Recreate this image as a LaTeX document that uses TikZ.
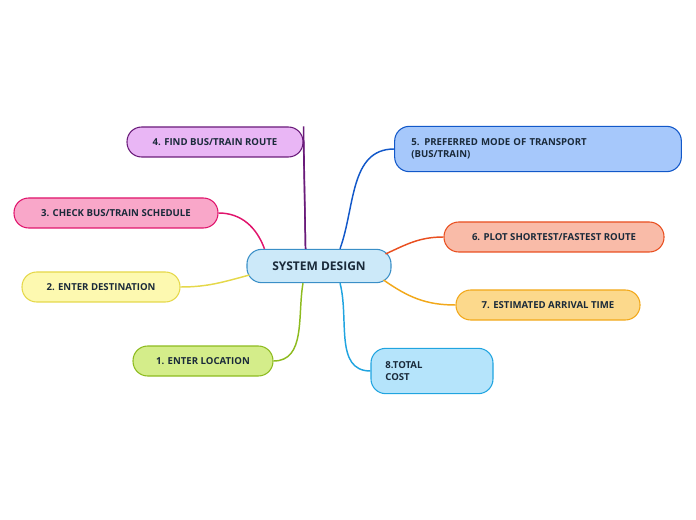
\documentclass[tikz,border=0pt]{standalone}
\usepackage{fontspec}
\setmainfont{Open Sans}
\usetikzlibrary{positioning}
\definecolor{sysfill}{HTML}{CCE9F9}\definecolor{sysline}{HTML}{3A8FC7}
\definecolor{purfill}{HTML}{E9B6F5}\definecolor{purline}{HTML}{6A1B7A}
\definecolor{pinfill}{HTML}{F9A7C9}\definecolor{pinline}{HTML}{E0146C}
\definecolor{yelfill}{HTML}{FDF9B0}\definecolor{yelline}{HTML}{E5D84A}
\definecolor{grnfill}{HTML}{D4ED8A}\definecolor{grnline}{HTML}{8DBB1F}
\definecolor{blufill}{HTML}{A6C8FB}\definecolor{bluline}{HTML}{1258C9}
\definecolor{orafill}{HTML}{F9BBA8}\definecolor{oraline}{HTML}{E94F20}
\definecolor{ambfill}{HTML}{FCD98C}\definecolor{ambline}{HTML}{F2A81A}
\definecolor{cyafill}{HTML}{B5E4FB}\definecolor{cyaline}{HTML}{20A4E0}
\definecolor{txt}{HTML}{1A2A3A}
\tikzset{
  topic/.style={draw, rounded corners=11pt, line width=0.8pt, inner sep=0pt,
    font=\bfseries\fontsize{7.2}{9}\selectfont, text=txt},
  link/.style={line width=1.1pt}
}
\begin{document}
\begin{tikzpicture}[x=0.75pt,y=-0.75pt]
\useasboundingbox (0,0) rectangle (696,520);

% central topic
\node[topic, fill=sysfill, draw=sysline, minimum width=108pt, minimum height=25pt,
  font=\bfseries\fontsize{9}{11}\selectfont] (sys) at (319,266) {SYSTEM DESIGN};

% left branches
\node[topic, fill=purfill, draw=purline, minimum width=132pt, minimum height=22.5pt] (route) at (215,142) {4. FIND BUS/TRAIN ROUTE};
\node[topic, fill=pinfill, draw=pinline, minimum width=153pt, minimum height=22.5pt] (sched) at (116,213) {3. CHECK BUS/TRAIN SCHEDULE};
\node[topic, fill=yelfill, draw=yelline, minimum width=118.5pt, minimum height=22.5pt] (dest) at (101,287) {2. ENTER DESTINATION};
\node[topic, fill=grnfill, draw=grnline, minimum width=105pt, minimum height=22.5pt] (loc) at (203,361) {1. ENTER LOCATION};

% right branches
\node[topic, fill=blufill, draw=bluline, minimum width=215pt, minimum height=34pt,
  text width=190pt, align=left] (mode) at (538,149) {5. PREFERRED MODE OF TRANSPORT\\(BUS/TRAIN)};
\node[topic, fill=orafill, draw=oraline, minimum width=165pt, minimum height=22.5pt] (plot) at (554,237) {6. PLOT SHORTEST/FASTEST ROUTE};
\node[topic, fill=ambfill, draw=ambline, minimum width=138pt, minimum height=22.5pt] (eta) at (548,305) {7. ESTIMATED ARRIVAL TIME};
\node[topic, fill=cyafill, draw=cyaline, minimum width=91.5pt, minimum height=34pt,
  text width=70pt, align=left] (cost) at (432,371) {8.TOTAL\\COST};

% connectors
\draw[link, purline] (sys.north -| route.east) ++(2,0) coordinate (p4) -- (route.east |- route.north) ++(0,12) coordinate (q4);
\draw[link, purline] (p4) -- (route.east);
\draw[link, pinline] (sys.north west) ++(18,0) coordinate (p3) to[out=110,in=0] (sched.east);
\draw[link, yelline] (sys.west) ++(3,9) coordinate (p2) to[out=195,in=0] (dest.east);
\draw[link, grnline] (sys.south) ++(-16,0) coordinate (p1) to[out=260,in=0] (loc.east);
\draw[link, bluline] (sys.north) ++(21,0) coordinate (p5) to[out=70,in=180] (mode.west);
\draw[link, oraline] (sys.east) ++(-6,-12) coordinate (p6) to[out=25,in=180] (plot.west);
\draw[link, ambline] (sys.east) ++(-8,14) coordinate (p7) to[out=-35,in=180] (eta.west);
\draw[link, cyaline] (sys.south) ++(21,0) coordinate (p8) to[out=285,in=180] (cost.west);
\end{tikzpicture}
\end{document}
